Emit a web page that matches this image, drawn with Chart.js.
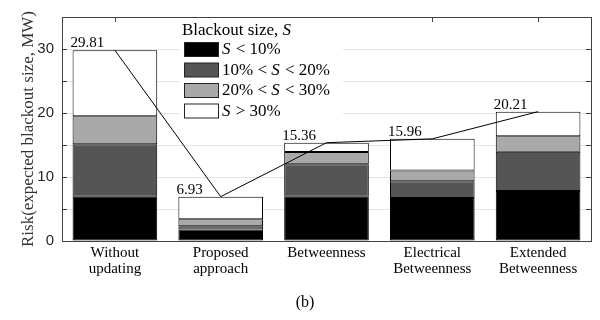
<!doctype html>
<html>
<head>
<meta charset="utf-8" />
<title>Blackout risk (b)</title>
<style>
  html, body { margin: 0; padding: 0; background: #fff; }
  #wrap { width: 600px; height: 320px; }
</style>
<script src="https://cdn.jsdelivr.net/npm/chart.js"></script>
</head>
<body>
<div id="wrap"><canvas id="chart" width="600" height="320"></canvas></div>
<script>
const categories = [
  ['Without', 'updating'],
  ['Proposed', 'approach'],
  'Betweenness',
  ['Electrical', 'Betweenness'],
  ['Extended', 'Betweenness'],
];
// risk contribution by blackout size (MW)
const sizeLt10 = [6.9, 1.8, 6.9, 6.7, 7.8];
const size10to20 = [8.2, 0.5, 5.1, 2.65, 6.15];
const size20to30 = [4.4, 1.1, 1.9, 1.65, 2.4];
const sizeGt30 = [10.31, 3.53, 1.46, 4.96, 3.86];
const totals = [29.81, 6.93, 15.36, 15.96, 20.21];
const totalLabels = ['29.81', '6.93', '15.36', '15.96', '20.21'];

const legendTitle = 'Blackout size, S';
const legendLabels = ['S < 10%', '10% < S < 20%', '20% < S < 30%', 'S > 30%'];
const fills = ['#000000', '#555555', '#a9a9a9', '#ffffff'];
const yTicks = [0, 10, 20, 30];

const SERIF = '"Liberation Serif", "DejaVu Serif", serif';
const SANS = '"Liberation Sans", Arial, sans-serif';
const AXIS = '#404040';

// draw a string where every 'S' is italic
function mathText(ctx, str, x, y, size) {
  const parts = str.split(/(S)/).filter(p => p.length);
  for (const p of parts) {
    ctx.font = (p === 'S' ? 'italic ' : '') + size + 'px ' + SERIF;
    ctx.fillText(p, x, y);
    x += ctx.measureText(p).width + (p === 'S' ? 1 : 0);
  }
}

const decor = {
  id: 'decor',
  afterDatasetsDraw(chart) {
    const { ctx, chartArea: a, scales } = chart;
    const y = scales.y, x = scales.x;
    ctx.save();

    // box
    ctx.strokeStyle = AXIS;
    ctx.lineWidth = 1;
    ctx.strokeRect(Math.round(a.left) + 0.5, Math.round(a.top) + 0.5,
      Math.round(a.right - a.left), Math.round(a.bottom - a.top));

    // inward ticks
    ctx.beginPath();
    for (let v = 0; v <= 35; v += 5) {
      const py = Math.round(y.getPixelForValue(v)) + 0.5;
      ctx.moveTo(a.left, py); ctx.lineTo(a.left + 5, py);
      ctx.moveTo(a.right, py); ctx.lineTo(a.right - 5, py);
    }
    for (let i = 0; i < categories.length; i++) {
      const px = Math.round(x.getPixelForValue(i)) + 0.5;
      ctx.moveTo(px, a.top); ctx.lineTo(px, a.top + 5);
    }
    ctx.stroke();

    // total labels above bars
    const top = chart.getDatasetMeta(3);
    ctx.fillStyle = '#000';
    ctx.font = '15px ' + SERIF;
    ctx.textAlign = 'left';
    ctx.textBaseline = 'alphabetic';
    top.data.forEach((bar, i) => {
      ctx.fillText(totalLabels[i], bar.x - bar.width / 2 - 2, bar.y - 3);
    });

    // legend
    const lx = 180, ly = 18;
    ctx.fillStyle = '#fff';
    ctx.fillRect(lx, ly, 163, 104);
    ctx.fillStyle = '#000';
    ctx.textBaseline = 'middle';
    mathText(ctx, legendTitle, 182, 31, 17);
    legendLabels.forEach((lab, i) => {
      const sy = 42 + i * 20.5;
      ctx.fillStyle = fills[i];
      ctx.fillRect(184.5, sy + 0.5, 34, 14);
      ctx.strokeStyle = '#222';
      ctx.strokeRect(184.5, sy + 0.5, 34, 14);
      ctx.fillStyle = '#000';
      mathText(ctx, lab, 222, sy + 8, 17);
    });

    // caption
    ctx.font = '16px ' + SERIF;
    ctx.textAlign = 'center';
    ctx.fillText('(b)', 305, 303);
    ctx.restore();
  }
};

const barSets = [sizeLt10, size10to20, size20to30, sizeGt30].map((d, i) => ({
  type: 'bar',
  label: legendLabels[i],
  data: d,
  backgroundColor: fills[i],
  borderColor: '#000',
  borderWidth: 1,
  borderSkipped: false,
  barPercentage: 0.8,
  categoryPercentage: 1,
  stack: 'risk',
  order: 1,
}));

new Chart(document.getElementById('chart'), {
  data: {
    labels: categories,
    datasets: [
      ...barSets,
      {
        type: 'line',
        label: 'Total',
        data: totals,
        borderColor: '#000',
        borderWidth: 1,
        pointRadius: 0,
        tension: 0,
        stack: 'total',
        order: 0,
      },
    ],
  },
  options: {
    responsive: false,
    animation: false,
    events: [],
    layout: { padding: { top: 13, right: 9, left: 0, bottom: 0 } },
    plugins: { legend: { display: false }, tooltip: { enabled: false } },
    scales: {
      x: {
        stacked: true,
        grid: { display: false, drawTicks: false },
        border: { display: false },
        ticks: {
          color: '#000',
          padding: 4,
          maxRotation: 0,
          autoSkip: false,
          font: { family: SERIF, size: 15, lineHeight: 1.07 },
        },
        afterFit: s => { s.height = 79; },
      },
      y: {
        stacked: true,
        min: 0,
        max: 35,
        grid: { color: '#e4e4e4', drawTicks: false },
        border: { display: false },
        ticks: {
          stepSize: 5,
          padding: 8,
          color: '#262626',
          font: { family: SANS, size: 15 },
          callback: v => (yTicks.includes(v) ? v : ''),
        },
        title: {
          display: true,
          text: 'Risk(expected blackout size, MW)',
          color: '#333',
          font: { family: SERIF, size: 17 },
          padding: { top: 18, bottom: 0 },
        },
        afterFit: s => { s.width = 62; },
      },
    },
  },
  plugins: [decor],
});
</script>
</body>
</html>
